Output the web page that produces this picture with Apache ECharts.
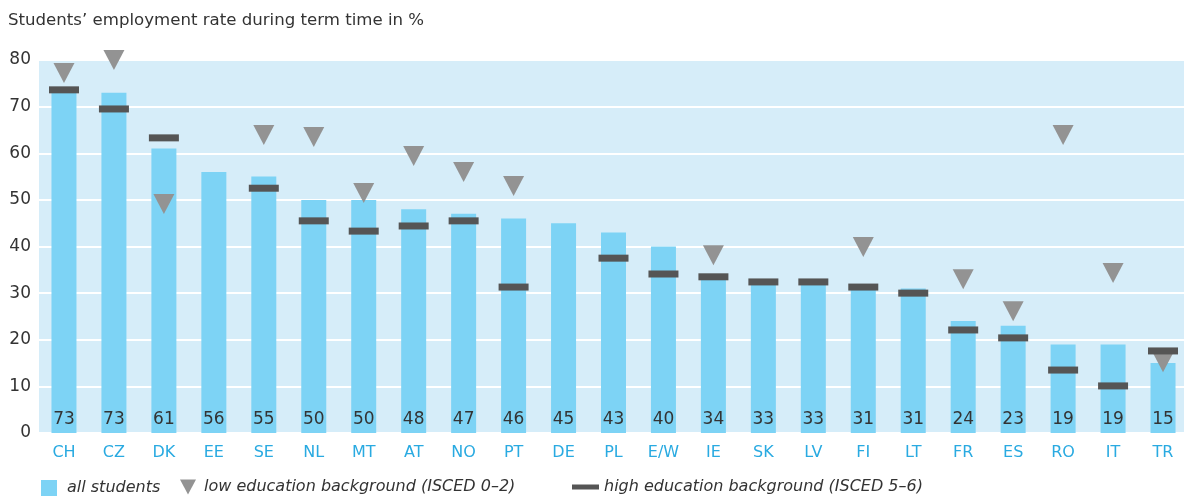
<!DOCTYPE html>
<html>
<head>
<meta charset="utf-8">
<script src="https://cdn.jsdelivr.net/npm/echarts@6/dist/echarts.min.js"></script>
<style>html,body{margin:0;padding:0;background:#fff;overflow:hidden;width:1184px;height:497px}#c{width:1190px;height:497px}</style>
</head>
<body>
<div id="c"></div>
<script>
const categories = ['CH','CZ','DK','EE','SE','NL','MT','AT','NO','PT','DE','PL','E/W','IE','SK','LV','FI','LT','FR','ES','RO','IT','TR'];
const allStudents = [73,73,61,56,55,50,50,48,47,46,45,43,40,34,33,33,31,31,24,23,19,19,15];
const lowEducation = [77.2,80.0,49.1,null,63.9,63.5,51.5,59.4,56.0,53.0,null,null,null,38.1,null,null,39.9,null,33.0,26.1,63.9,34.3,15.2];
const highEducation = [73.6,69.5,63.3,null,52.5,45.5,43.3,44.4,45.5,31.3,null,37.5,34.1,33.5,32.4,32.4,31.3,30.0,22.1,20.4,13.5,10.1,17.6];
const yTicks = [0,10,20,30,40,50,60,70,80];

const FONT = '"DejaVu Sans", "Liberation Sans", Arial, sans-serif';
const TRI = 'path://M0,0 L20,0 L10,19 Z';
const legendText = {fontFamily: FONT, fontSize: 16, fontStyle: 'italic', color: '#333', lineHeight: 16};
const chart = echarts.init(document.getElementById('c'));
chart.setOption({
  animation: false,
  title: {
    text: 'Students\u2019 employment rate during term time in %',
    left: 8, top: 12, padding: 0,
    textStyle: {fontFamily: FONT, fontSize: 16.6, fontWeight: 'normal', color: '#333'}
  },
  grid: {left: 39, width: 1149, top: 60, bottom: 64, show: true, backgroundColor: '#d6edf9', borderWidth: 0},
  legend: [
    {data: [{name: 'all students', icon: 'rect'}], left: 41, top: 480, padding: 0, itemWidth: 16, itemHeight: 16,
     textStyle: Object.assign({}, legendText, {padding: [0,0,0,5]})},
    {data: [{name: 'low education background (ISCED 0\u20132)', icon: TRI}], left: 180, top: 479, padding: 0, itemWidth: 16, itemHeight: 16,
     textStyle: Object.assign({}, legendText, {padding: [0,0,0,3]})},
    {data: [{name: 'high education background (ISCED 5\u20136)', icon: 'rect'}], left: 572, top: 478, padding: 0, itemWidth: 27, itemHeight: 5,
     textStyle: Object.assign({}, legendText, {padding: [2,0,0,0]})}
  ],
  xAxis: {
    type: 'category', data: categories,
    axisLine: {show: false}, axisTick: {show: false},
    axisLabel: {color: '#29aae1', fontFamily: FONT, fontSize: 16, margin: 12}
  },
  yAxis: {
    type: 'value', min: 0, max: 80, interval: 10,
    axisLine: {show: false}, axisTick: {show: false},
    axisLabel: {color: '#333', fontFamily: FONT, fontSize: 17, margin: 8,
      formatter: v => yTicks.includes(v) ? String(v) : ''},
    splitLine: {show: true, lineStyle: {color: '#ffffff', width: 2}}
  },
  series: [
    {
      name: 'all students', type: 'bar', data: allStudents, barWidth: 25,
      itemStyle: {color: '#7dd3f5'},
      label: {show: true, position: 'insideBottom', distance: 5, color: '#333', fontFamily: FONT, fontSize: 17},
      z: 2
    },
    {
      name: 'low education background (ISCED 0\u20132)', type: 'scatter', data: lowEducation,
      symbol: TRI, symbolSize: [21, 20],
      itemStyle: {color: '#939393', opacity: 1}, z: 3
    },
    {
      name: 'high education background (ISCED 5\u20136)', type: 'scatter', data: highEducation,
      symbol: 'rect', symbolSize: [30, 7],
      itemStyle: {color: '#555555', opacity: 1}, z: 4
    }
  ]
});
</script>
</body>
</html>
